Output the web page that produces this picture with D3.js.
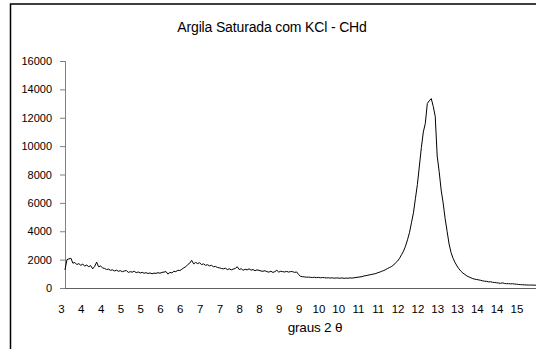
<!DOCTYPE html>
<html><head><meta charset="utf-8">
<script src="https://cdn.jsdelivr.net/npm/d3@7"></script>
<style>
html,body{margin:0;padding:0;background:#fff;overflow:hidden;}
text{font-family:"Liberation Sans",Arial,sans-serif;fill:#000;}
</style></head>
<body><svg id="c" width="536" height="349"></svg>
<script>
const title = "Argila Saturada com KCl - CHd";
const xTitle = "graus 2 θ";
const yTicks = [0, 2000, 4000, 6000, 8000, 10000, 12000, 14000, 16000];
const xTickValues = [3, 3.5, 4, 4.5, 5, 5.5, 6, 6.5, 7, 7.5, 8, 8.5, 9, 9.5, 10, 10.5, 11, 11.5, 12, 12.5, 13, 13.5, 14, 14.5];
const xTickLabels = ["3","4","4","5","5","6","6","7","7","8","8","9","9","10","10","11","11","12","12","13","13","14","14","15"];
const angleStart = 3.10, angleStep = 0.05;
const counts = [
 1270, 2000, 2050, 2100, 1750, 1800, 1650, 1720, 1600, 1680, 1550, 1620, 1500, 1580, 1350, 1520, 1820, 1500,
 1550, 1420, 1380, 1300, 1330, 1250, 1280, 1200, 1260, 1180, 1220, 1150, 1200, 1230, 1100, 1150, 1120, 1180, 1080, 1130,
 1060, 1100, 1040, 1080, 1020, 1060, 1000, 1050, 1030, 1080, 1040, 1100, 1120, 1160, 980, 1100, 1060, 1180, 1150, 1250,
 1230, 1320, 1420, 1500, 1650, 1750, 1950, 1700, 1800, 1720, 1780, 1650, 1700, 1600, 1640, 1560, 1600, 1500, 1520, 1450,
 1420, 1380, 1350, 1400, 1300, 1350, 1280, 1330, 1380, 1500, 1300, 1360, 1250, 1320, 1280, 1350, 1260, 1300, 1220, 1280,
 1240, 1200, 1180, 1220, 1150, 1120, 1180, 1100, 1150, 1250, 1120, 1180, 1150, 1130, 1170, 1120, 1160, 1150, 1100, 1130,
 950, 820, 800, 780, 760, 770, 750, 740, 760, 730, 750, 720, 740, 730, 710, 720, 700, 720, 690, 710,
 700, 690, 710, 680, 700, 690, 710, 700, 720, 740, 760, 780, 800, 850, 870, 900, 930, 960, 990, 1020,
 1080, 1120, 1180, 1230, 1300, 1380, 1450, 1520, 1620, 1780, 1900, 2100, 2350, 2600, 2950, 3400, 3900, 4600, 5300, 6300,
 7300, 8600, 9900, 11000, 11600, 13000, 13200, 13350, 12800, 12100, 9300, 8200, 6900, 6000, 4900, 4000, 3100, 2500, 2100, 1800,
 1550, 1350, 1180, 1050, 950, 850, 780, 720, 660, 620, 600, 570, 540, 500, 480, 470, 430, 440, 400, 390,
 370, 350, 330, 360, 320, 300, 310, 290, 300, 280, 270, 250, 240, 230, 220, 215, 210, 205, 210, 200,
 200
];
const data = counts.map((c, i) => ({a: angleStart + i * angleStep, c}));

const svg = d3.select("#c");
// outer chart frame (right/bottom fall outside the window)
svg.append("rect").attr("x", 10.5).attr("y", 4).attr("width", 700).attr("height", 500)
  .attr("fill", "none").attr("stroke", "#000").attr("stroke-width", 1.5);

const x = d3.scaleLinear().domain([3, 15]).range([61, 536.2]);
const y = d3.scaleLinear().domain([0, 16000]).range([288, 61]);
const axisX0 = 65;

svg.append("text").attr("x", 272).attr("y", 32).attr("text-anchor", "middle")
  .style("font-size", "14px").style("letter-spacing", "-0.15px").text(title);

// y axis
const yAxis = svg.append("g").attr("transform", `translate(${axisX0},0)`)
  .call(d3.axisLeft(y).tickValues(yTicks).tickSize(5).tickPadding(8).tickFormat(d3.format("d")));
yAxis.select(".domain").attr("stroke", "#808080").attr("d", `M0.5,${y(16000)}V${y(0)}`);
yAxis.selectAll(".tick line").attr("stroke", "#808080");
yAxis.selectAll(".tick text").style("font-size", "11px").style("font-family", "Liberation Sans, Arial, sans-serif");

// x axis
svg.append("line").attr("x1", axisX0).attr("x2", 540).attr("y1", y(0) + 0.5).attr("y2", y(0) + 0.5)
  .attr("stroke", "#606060").attr("stroke-width", 1);
const xAxis = svg.append("g").attr("transform", `translate(0,${y(0)})`)
  .call(d3.axisBottom(x).tickValues(xTickValues).tickSize(0).tickPadding(17)
    .tickFormat((d, i) => xTickLabels[i]));
xAxis.select(".domain").remove();
xAxis.selectAll(".tick text").style("font-size", "11.5px").style("font-family", "Liberation Sans, Arial, sans-serif");

svg.append("text").attr("x", 315).attr("y", 332).attr("text-anchor", "middle")
  .style("font-size", "13.5px").style("letter-spacing", "-0.2px").text(xTitle);

// data line
const line = d3.line().x(d => x(d.a)).y(d => y(d.c));
svg.append("path").datum(data).attr("d", line)
  .attr("fill", "none").attr("stroke", "#000").attr("stroke-width", 1);
</script></body></html>
